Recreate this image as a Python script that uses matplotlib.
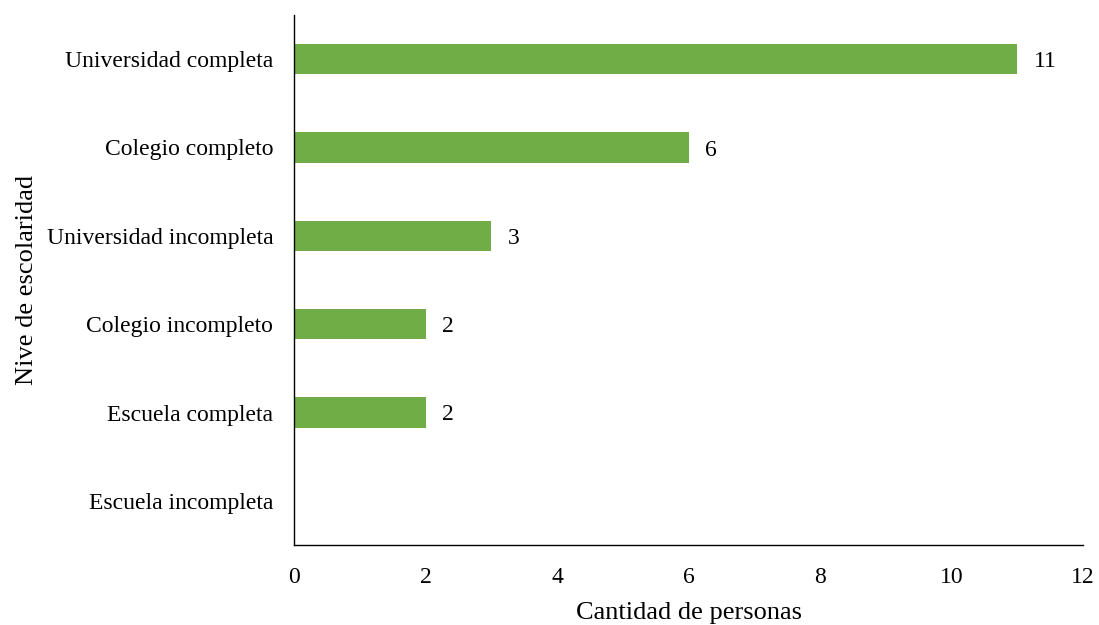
import numpy as np
import matplotlib
matplotlib.use("Agg")
import matplotlib.pyplot as plt

plt.rcParams.update({"font.family": "Liberation Serif", "font.size": 17})

categories = ["Escuela incompleta", "Escuela completa", "Colegio incompleto",
              "Universidad incompleta", "Colegio completo", "Universidad completa"]
values = [0, 2, 2, 3, 6, 11]
xticks = [0, 2, 4, 6, 8, 10, 12]

fig = plt.figure(figsize=(10.99, 6.25), dpi=100)
ax = fig.add_axes([294 / 1099, 80 / 625, 789 / 1099, 530 / 625])

y = np.arange(len(categories))
ax.barh(y, values, height=0.34, color="#70AD47")
for yi, v in zip(y, values):
    if v > 0:
        ax.text(v + 0.25, yi, str(v), va="center_baseline", ha="left",
                fontsize=17)

ax.set_yticks(y)
ax.set_yticklabels(categories)
ax.set_ylim(-0.5, len(categories) - 0.5)
ax.set_xlim(0, 12)
ax.set_xticks(xticks)
ax.tick_params(axis="x", length=0, pad=16)
ax.tick_params(axis="y", length=0, pad=15)
for s in ["top", "right"]:
    ax.spines[s].set_visible(False)
ax.spines["left"].set_linewidth(1.0)
ax.spines["bottom"].set_linewidth(1.0)

ax.set_xlabel("Cantidad de personas", fontsize=19, labelpad=10)
ax.set_ylabel("Nive de escolaridad", fontsize=19, labelpad=6)

fig.savefig("out.png", dpi=100, facecolor="white")
